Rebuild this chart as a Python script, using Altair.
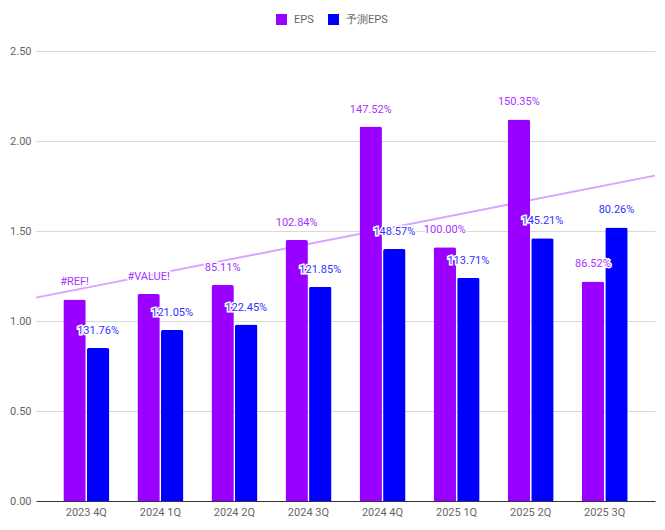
import altair as alt
import pandas as pd

quarters = ["2023 4Q", "2024 1Q", "2024 2Q", "2024 3Q", "2024 4Q", "2025 1Q", "2025 2Q", "2025 3Q"]
eps = [1.12, 1.15, 1.20, 1.45, 2.08, 1.41, 2.12, 1.22]
eps_forecast = [0.85, 0.95, 0.98, 1.19, 1.40, 1.24, 1.46, 1.52]
eps_labels = ["#REF!", "#VALUE!", "85.11%", "102.84%", "147.52%", "100.00%", "150.35%", "86.52%"]
forecast_labels = ["131.76%", "121.05%", "122.45%", "121.85%", "148.57%", "113.71%", "145.21%", "80.26%"]
series_names = ["EPS", "予測EPS"]
series_colors = ["#9900ff", "#0000ff"]

rows = []
for i, q in enumerate(quarters):
    rows.append({"quarter": q, "idx": i, "series": series_names[0], "value": eps[i], "label": eps_labels[i]})
    rows.append({"quarter": q, "idx": i, "series": series_names[1], "value": eps_forecast[i], "label": forecast_labels[i]})
df = pd.DataFrame(rows)

P_IN = 0.379
P_OUT = 0.369
half = P_OUT + (1 - P_IN) / 2
lo, hi = -half, len(quarters) - 1 + half

FONT = "Roboto"

x_enc = alt.X("quarter:N", sort=quarters, title=None,
              scale=alt.Scale(paddingInner=P_IN, paddingOuter=P_OUT),
              axis=alt.Axis(labelAngle=0, ticks=False, labelPadding=5, labelColor="#666666",
                            labelFontSize=11, labelFont=FONT, domainColor="#333333",
                            domainWidth=1, grid=False, zindex=1))
y_enc = alt.Y("value:Q", title=None,
              scale=alt.Scale(domain=[0, 2.5], nice=False),
              axis=alt.Axis(values=[0, 0.5, 1.0, 1.5, 2.0, 2.5], format=".2f", ticks=False,
                            domain=False, labelPadding=5, labelColor="#666666", labelFontSize=11,
                            labelFont=FONT, gridColor="#d9d9d9", gridWidth=1))
xoff = alt.XOffset("series:N", sort=series_names, scale=alt.Scale(paddingInner=0.05))

base = alt.Chart(df)

trend = base.transform_filter(alt.datum.series == "EPS").transform_regression(
    "idx", "value", extent=[lo, hi]
).mark_line(color="#d9a3ff", strokeWidth=2).encode(
    x=alt.X("idx:Q", scale=alt.Scale(domain=[lo, hi], nice=False, zero=False), axis=None),
    y=y_enc,
)

bars = base.mark_bar(cornerRadiusTopLeft=2, cornerRadiusTopRight=2).encode(
    x=x_enc,
    xOffset=xoff,
    y=y_enc,
    color=alt.Color("series:N", sort=series_names,
                    scale=alt.Scale(domain=series_names, range=series_colors),
                    legend=alt.Legend(title=None, orient="none", direction="horizontal",
                                      legendX=240, legendY=-37, symbolType="square",
                                      symbolSize=121, symbolStrokeWidth=0, labelFontSize=11,
                                      labelFont=FONT, labelColor="#666666", labelOffset=7,
                                      columnPadding=14, padding=0)),
)

halo = base.mark_text(baseline="middle", dy=-17, fontSize=11, font=FONT,
                      stroke="white", strokeWidth=3, fill="white").encode(
    x=alt.X("quarter:N", sort=quarters), xOffset=xoff, y=y_enc, text="label:N")

labels = base.mark_text(baseline="middle", dy=-17, fontSize=11, font=FONT).encode(
    x=alt.X("quarter:N", sort=quarters), xOffset=xoff, y=y_enc, text="label:N",
    fill=alt.condition(alt.datum.series == "EPS", alt.value("#a633ff"), alt.value("#3333ff")),
)

front = alt.layer(bars, halo, labels)
chart = alt.layer(trend, front).resolve_scale(x="independent").properties(
    width=619, height=450,
    autosize=alt.AutoSizeParams(type="none"),
    padding={"left": 28, "top": 43, "right": 2, "bottom": 21},
).configure(font=FONT).configure_view(strokeWidth=0, stroke="transparent")

chart.save("out.html", embed_options={"renderer": "svg", "actions": False})
